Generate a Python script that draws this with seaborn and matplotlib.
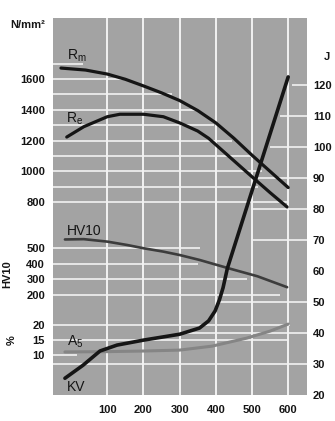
import matplotlib
matplotlib.use("Agg")
import matplotlib.pyplot as plt
import seaborn as sns

# Tempering temperature (°C) against mechanical properties
rm_temp = [-28, 40, 100, 150, 200, 250, 300, 350, 400, 450, 500, 550, 600]
rm_val = [1671, 1658, 1632, 1598, 1555, 1510, 1460, 1395, 1315, 1215, 1105, 1000, 895]

re_temp = [-12, 35, 100, 135, 200, 255, 300, 350, 380, 440, 500, 550, 597]
re_val = [1223, 1290, 1355, 1371, 1371, 1355, 1315, 1262, 1215, 1090, 965, 862, 769]

hv_temp = [-17, 35, 100, 155, 200, 255, 300, 355, 435, 515, 597]
hv_val = [558, 560, 544, 522, 501, 479, 457, 425, 371, 319, 248]

a5_temp = [-17, 100, 200, 300, 390, 485, 550, 600]
a5_val = [11.1, 11.2, 11.4, 11.7, 13.0, 15.6, 17.9, 20.2]

kv_temp = [-17, 33, 80, 127, 200, 300, 355, 380, 398, 410, 420, 432, 600]
kv_val = [25.3, 29.5, 34.1, 36.0, 37.6, 39.5, 41.5, 43.8, 47.0, 50.6, 54.5, 60.8, 122.5]

x_ticks = [100, 200, 300, 400, 500, 600]
strength_ticks = [800, 1000, 1200, 1400, 1600]
hv_ticks = [200, 300, 400, 500]
pct_ticks = [10, 15, 20]
j_ticks = [20, 30, 40, 50, 60, 70, 80, 90, 100, 110, 120]

sns.set_style("white")
plt.rcParams["font.family"] = ["Liberation Sans", "DejaVu Sans"]
plt.rcParams["font.weight"] = "bold"
plt.rcParams["mathtext.fontset"] = "custom"
plt.rcParams["mathtext.rm"] = "Liberation Sans:bold"
plt.rcParams["mathtext.default"] = "regular"

BG = "#a3a3a3"
GRID = "#f2f2f2"
INK = "#151515"

fig = plt.figure(figsize=(3.35, 4.21), dpi=100)
ax = fig.add_axes([53 / 335, 26 / 421, 254 / 335, 377 / 421])
ax.set_facecolor(BG)
ax_pct = ax.twinx()
ax_j = ax.twinx()

ax.set_xlim(-50, 652)
ax.set_ylim(-452, 1996)
ax_pct.set_ylim(-2.97, 120.2)
ax_j.set_ylim(19.9, 141.5)

for a in (ax, ax_pct, ax_j):
    for s in a.spines.values():
        s.set_visible(False)

# vertical grid at the temperature ticks
ax.set_xticks(x_ticks)
ax.grid(axis="x", color=GRID, lw=1.4)
ax.grid(axis="y", visible=False)
ax.set_axisbelow(True)

# horizontal grid segments: (value, start, end) in temperature units
strength_grid = [(1700, -50, 33), (1600, -50, 141), (1500, -50, 279), (1400, -50, 342),
                 (1300, -50, 395), (1200, -50, 444), (1100, -50, 502), (1000, -50, 527),
                 (900, -50, 516), (800, -50, 599),
                 (500, -50, 356), (400, -50, 351), (300, -50, 486), (200, -50, 577)]
pct_grid = [(20, -50, 605), (15, -50, 600), (10, -50, 17)]
j_grid = [(120, 610, 652), (110, 577, 652), (100, 549, 652), (90, 500, 652),
          (80, 500, 652), (70, 500, 652), (50, 411, 652), (40, 300, 652),
          (30, -50, 652)]
for v, t0, t1 in strength_grid:
    ax.hlines(v, t0, t1, colors=GRID, lw=1.2, zorder=0.5)
for v, t0, t1 in pct_grid:
    ax.hlines(v, t0, t1, colors=GRID, lw=1.2, zorder=0.5, transform=ax_pct.transData)
for v, t0, t1 in j_grid:
    ax.hlines(v, t0, t1, colors=GRID, lw=1.2, zorder=0.5, transform=ax_j.transData)

# curves
sns.lineplot(x=rm_temp, y=rm_val, ax=ax, color=INK, lw=2.3, zorder=3)
sns.lineplot(x=re_temp, y=re_val, ax=ax, color=INK, lw=2.3, zorder=3)
sns.lineplot(x=hv_temp, y=hv_val, ax=ax, color="#3c3c3c", lw=1.9, zorder=3)
sns.lineplot(x=a5_temp, y=a5_val, ax=ax_pct, color="#858585", lw=2.2, zorder=3)
sns.lineplot(x=kv_temp, y=kv_val, ax=ax_j, color=INK, lw=2.6, zorder=3)

ax.set_xlim(-50, 652)
ax.set_ylim(-452, 1996)
ax_pct.set_ylim(-2.97, 120.2)
ax_j.set_ylim(19.9, 141.5)

# ticks
ax.set_yticks(hv_ticks + strength_ticks)
ax.set_yticklabels([str(t) for t in hv_ticks + strength_ticks])
ax.set_xticklabels([str(t) for t in x_ticks])
ax.tick_params(axis="both", length=0, labelsize=8, labelcolor=INK)
ax.tick_params(axis="y", pad=5.8)
ax.tick_params(axis="x", pad=7.0)

ax_pct.yaxis.set_ticks_position("left")
ax_pct.set_yticks(pct_ticks)
ax_pct.set_yticklabels([str(t) for t in pct_ticks])
ax_pct.tick_params(axis="y", length=0, labelsize=8, labelcolor=INK, pad=5.8)

ax_j.set_yticks(j_ticks)
ax_j.set_yticklabels([str(t) for t in j_ticks])
ax_j.tick_params(axis="y", length=0, labelsize=8, labelcolor=INK, pad=4.3)

for a in (ax, ax_pct, ax_j):
    a.set_xlabel("")
    a.set_ylabel("")

# curve names
name_kw = dict(transform=ax.transAxes, fontsize=10, color=INK, va="baseline", ha="left",
               zorder=5, fontweight="normal")
ax.text(0.055, 0.889, r"R$_m$", **name_kw)
ax.text(0.051, 0.7215, r"R$_e$", **name_kw)
ax.text(0.055, 0.424, "HV10", **name_kw)
ax.text(0.055, 0.130, r"A$_5$", **name_kw)
ax.text(0.055, 0.0106, "KV", **name_kw)

# unit labels
fig.text(45 / 335, 1 - 28 / 421, "N/mm²", fontsize=8, color=INK, ha="right", va="baseline")
fig.text(7 / 335, 1 - 274 / 421, "HV10", fontsize=8, color=INK, ha="center", va="center", rotation=90)
fig.text(12 / 335, 1 - 340 / 421, "%", fontsize=8, color=INK, ha="center", va="center", rotation=90)
fig.text(327 / 335, 1 - 57 / 421, "J", fontsize=8, color=INK, ha="center", va="center")

fig.savefig("out.png", dpi=100)
